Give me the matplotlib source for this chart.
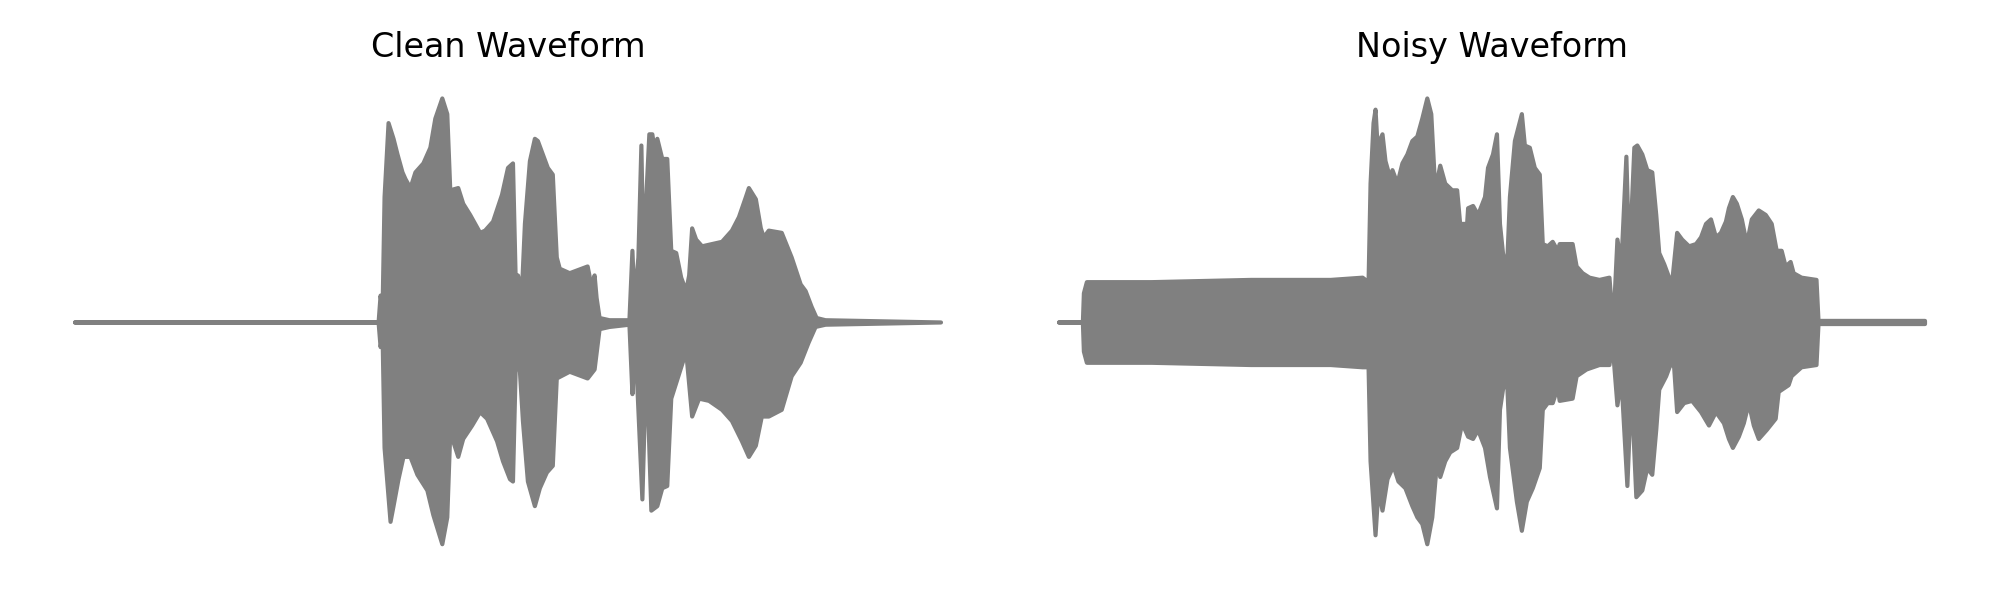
import numpy as np
import matplotlib
matplotlib.use("Agg")
import matplotlib.pyplot as plt

# envelope of each waveform
# time in seconds, amplitude normalised to the loudest peak
clean_up_t = [0.000, 1.525, 1.535, 1.545, 1.555, 1.575, 1.600, 1.620, 1.645, 1.660,
              1.685, 1.710, 1.750, 1.785, 1.810, 1.845, 1.870, 1.885, 1.925, 1.950,
              1.985, 2.035, 2.060, 2.100, 2.145, 2.175, 2.200, 2.215, 2.225, 2.245,
              2.260, 2.285, 2.310, 2.325, 2.350, 2.375, 2.400, 2.420, 2.435, 2.485,
              2.575, 2.595, 2.610, 2.620, 2.635, 2.685, 2.785, 2.800, 2.810, 2.830,
              2.845, 2.855, 2.885, 2.900, 2.910, 2.925, 2.950, 2.975, 2.995, 3.020,
              3.045, 3.070, 3.085, 3.100, 3.120, 3.150, 3.200, 3.250, 3.300, 3.335,
              3.370, 3.385, 3.420, 3.445, 3.460, 3.485, 3.550, 3.600, 3.645, 3.670,
              3.700, 3.725, 3.770, 4.350]
clean_up = [0.00, 0.00, 0.12, 0.055, 0.56, 0.89, 0.82, 0.75, 0.67, 0.64,
            0.60, 0.67, 0.71, 0.78, 0.91, 1.00, 0.93, 0.59, 0.60, 0.53,
            0.48, 0.40, 0.41, 0.45, 0.57, 0.69, 0.71, 0.14, 0.21, 0.14,
            0.44, 0.72, 0.82, 0.81, 0.75, 0.69, 0.66, 0.29, 0.24, 0.22,
            0.25, 0.16, 0.21, 0.11, 0.02, 0.01, 0.01, 0.32, 0.09, 0.29,
            0.79, 0.29, 0.84, 0.84, 0.78, 0.82, 0.73, 0.73, 0.32, 0.31,
            0.20, 0.14, 0.21, 0.42, 0.37, 0.34, 0.35, 0.36, 0.41, 0.47,
            0.56, 0.60, 0.55, 0.42, 0.38, 0.41, 0.40, 0.29, 0.17, 0.14,
            0.07, 0.02, 0.01, 0.00]

clean_lo_t = [0.000, 1.525, 1.535, 1.545, 1.555, 1.585, 1.600, 1.625, 1.650, 1.685,
              1.720, 1.770, 1.800, 1.845, 1.870, 1.885, 1.925, 1.950, 1.995, 2.035,
              2.070, 2.120, 2.150, 2.185, 2.200, 2.215, 2.235, 2.250, 2.275, 2.310,
              2.335, 2.370, 2.400, 2.420, 2.485, 2.575, 2.610, 2.635, 2.685, 2.785,
              2.800, 2.810, 2.825, 2.850, 2.870, 2.895, 2.925, 2.950, 2.975, 2.995,
              3.020, 3.045, 3.070, 3.100, 3.135, 3.185, 3.250, 3.300, 3.350, 3.385,
              3.420, 3.450, 3.485, 3.550, 3.600, 3.645, 3.685, 3.720, 3.770, 4.350]
clean_lo = [0.00, 0.00, -0.11, -0.055, -0.56, -0.89, -0.82, -0.70, -0.60, -0.60,
            -0.68, -0.75, -0.86, -0.99, -0.87, -0.49, -0.60, -0.52, -0.46, -0.40,
            -0.43, -0.53, -0.62, -0.70, -0.71, -0.15, -0.22, -0.44, -0.71, -0.82,
            -0.74, -0.67, -0.64, -0.25, -0.22, -0.25, -0.21, -0.03, -0.02, -0.01,
            -0.32, -0.10, -0.29, -0.79, -0.15, -0.84, -0.82, -0.74, -0.73, -0.34,
            -0.27, -0.20, -0.13, -0.42, -0.34, -0.35, -0.39, -0.44, -0.53, -0.60,
            -0.55, -0.42, -0.42, -0.39, -0.24, -0.18, -0.09, -0.02, -0.01, 0.00]

noisy_up_t = [0.000, 0.120, 0.125, 0.140, 0.465, 0.965, 1.365, 1.525, 1.555, 1.565,
              1.580, 1.590, 1.600, 1.625, 1.640, 1.665, 1.675, 1.700, 1.725, 1.750,
              1.775, 1.800, 1.825, 1.850, 1.870, 1.890, 1.915, 1.940, 1.975, 2.000,
              2.015, 2.050, 2.055, 2.080, 2.105, 2.140, 2.155, 2.180, 2.200, 2.215,
              2.230, 2.250, 2.265, 2.290, 2.325, 2.340, 2.365, 2.390, 2.415, 2.430,
              2.455, 2.480, 2.505, 2.515, 2.580, 2.600, 2.630, 2.665, 2.715, 2.765,
              2.780, 2.790, 2.805, 2.825, 2.850, 2.865, 2.890, 2.905, 2.930, 2.955,
              2.980, 3.000, 3.015, 3.040, 3.065, 3.080, 3.105, 3.130, 3.165, 3.200,
              3.225, 3.250, 3.275, 3.300, 3.325, 3.350, 3.365, 3.385, 3.405, 3.430,
              3.455, 3.480, 3.515, 3.550, 3.580, 3.605, 3.630, 3.650, 3.675, 3.690,
              3.730, 3.805, 3.815, 4.350]
noisy_up = [0.00, 0.00, 0.13, 0.18, 0.18, 0.19, 0.19, 0.20, 0.18, 0.62,
            0.89, 0.95, 0.79, 0.84, 0.72, 0.64, 0.68, 0.62, 0.71, 0.75,
            0.81, 0.83, 0.91, 1.00, 0.93, 0.59, 0.70, 0.62, 0.59, 0.59,
            0.44, 0.44, 0.51, 0.52, 0.48, 0.56, 0.69, 0.75, 0.84, 0.44,
            0.31, 0.23, 0.56, 0.81, 0.93, 0.79, 0.78, 0.69, 0.66, 0.35,
            0.34, 0.36, 0.32, 0.35, 0.35, 0.25, 0.22, 0.20, 0.19, 0.20,
            0.03, 0.09, 0.37, 0.26, 0.74, 0.26, 0.78, 0.79, 0.75, 0.68,
            0.67, 0.48, 0.31, 0.26, 0.20, 0.18, 0.40, 0.37, 0.34, 0.35,
            0.38, 0.44, 0.46, 0.38, 0.40, 0.45, 0.51, 0.56, 0.53, 0.46,
            0.35, 0.46, 0.50, 0.48, 0.44, 0.32, 0.32, 0.25, 0.27, 0.22,
            0.20, 0.19, 0.007, 0.007]

noisy_lo_t = [0.000, 0.120, 0.125, 0.140, 0.465, 0.965, 1.365, 1.525, 1.555, 1.565,
              1.590, 1.605, 1.625, 1.650, 1.680, 1.705, 1.740, 1.775, 1.800, 1.825,
              1.850, 1.875, 1.900, 1.915, 1.940, 1.965, 2.000, 2.025, 2.055, 2.080,
              2.105, 2.140, 2.165, 2.200, 2.215, 2.230, 2.250, 2.265, 2.300, 2.325,
              2.350, 2.380, 2.415, 2.430, 2.455, 2.480, 2.505, 2.515, 2.580, 2.600,
              2.650, 2.715, 2.765, 2.780, 2.805, 2.825, 2.855, 2.875, 2.900, 2.930,
              2.955, 2.980, 3.000, 3.015, 3.050, 3.075, 3.090, 3.105, 3.140, 3.180,
              3.225, 3.265, 3.300, 3.340, 3.365, 3.385, 3.415, 3.440, 3.465, 3.490,
              3.515, 3.555, 3.600, 3.615, 3.665, 3.680, 3.730, 3.805, 3.815, 4.350]
noisy_lo = [0.00, 0.00, -0.13, -0.18, -0.18, -0.19, -0.19, -0.20, -0.20, -0.62,
            -0.95, -0.74, -0.84, -0.70, -0.64, -0.71, -0.74, -0.82, -0.87, -0.90,
            -0.99, -0.87, -0.61, -0.69, -0.62, -0.58, -0.56, -0.45, -0.51, -0.52,
            -0.48, -0.56, -0.69, -0.83, -0.39, -0.30, -0.24, -0.56, -0.80, -0.93,
            -0.80, -0.74, -0.65, -0.39, -0.36, -0.36, -0.29, -0.35, -0.34, -0.24,
            -0.21, -0.19, -0.19, -0.09, -0.37, -0.25, -0.73, -0.28, -0.78, -0.75,
            -0.65, -0.68, -0.48, -0.30, -0.24, -0.18, -0.20, -0.40, -0.36, -0.35,
            -0.40, -0.46, -0.40, -0.45, -0.52, -0.56, -0.51, -0.45, -0.36, -0.46,
            -0.52, -0.48, -0.43, -0.31, -0.28, -0.24, -0.20, -0.19, -0.007, -0.007]

titles = ["Clean Waveform", "Noisy Waveform"]
duration = 4.35


def draw_wave(ax, t_up, a_up, t_lo, a_lo, title):
    # outline = upper envelope left->right, lower envelope right->left
    xs = np.concatenate([t_up, t_lo[::-1]])
    ys = np.concatenate([a_up, a_lo[::-1]])
    ax.fill(xs, ys, facecolor="gray", edgecolor="gray", linewidth=1.5,
            joinstyle="round", clip_on=False)
    ax.set_xlim(0, duration)
    ax.set_ylim(-1, 1)
    ax.set_title(title, fontsize=12, pad=14.8)
    ax.axis("off")


fig = plt.figure(figsize=(10, 3), dpi=200)
ax1 = fig.add_axes([0.0375, 0.0892, 0.433, 0.7467])
ax2 = fig.add_axes([0.5295, 0.0892, 0.433, 0.7467])
draw_wave(ax1, clean_up_t, clean_up, clean_lo_t, clean_lo, titles[0])
draw_wave(ax2, noisy_up_t, noisy_up, noisy_lo_t, noisy_lo, titles[1])
plt.savefig("out.png", dpi=200, facecolor="white")
